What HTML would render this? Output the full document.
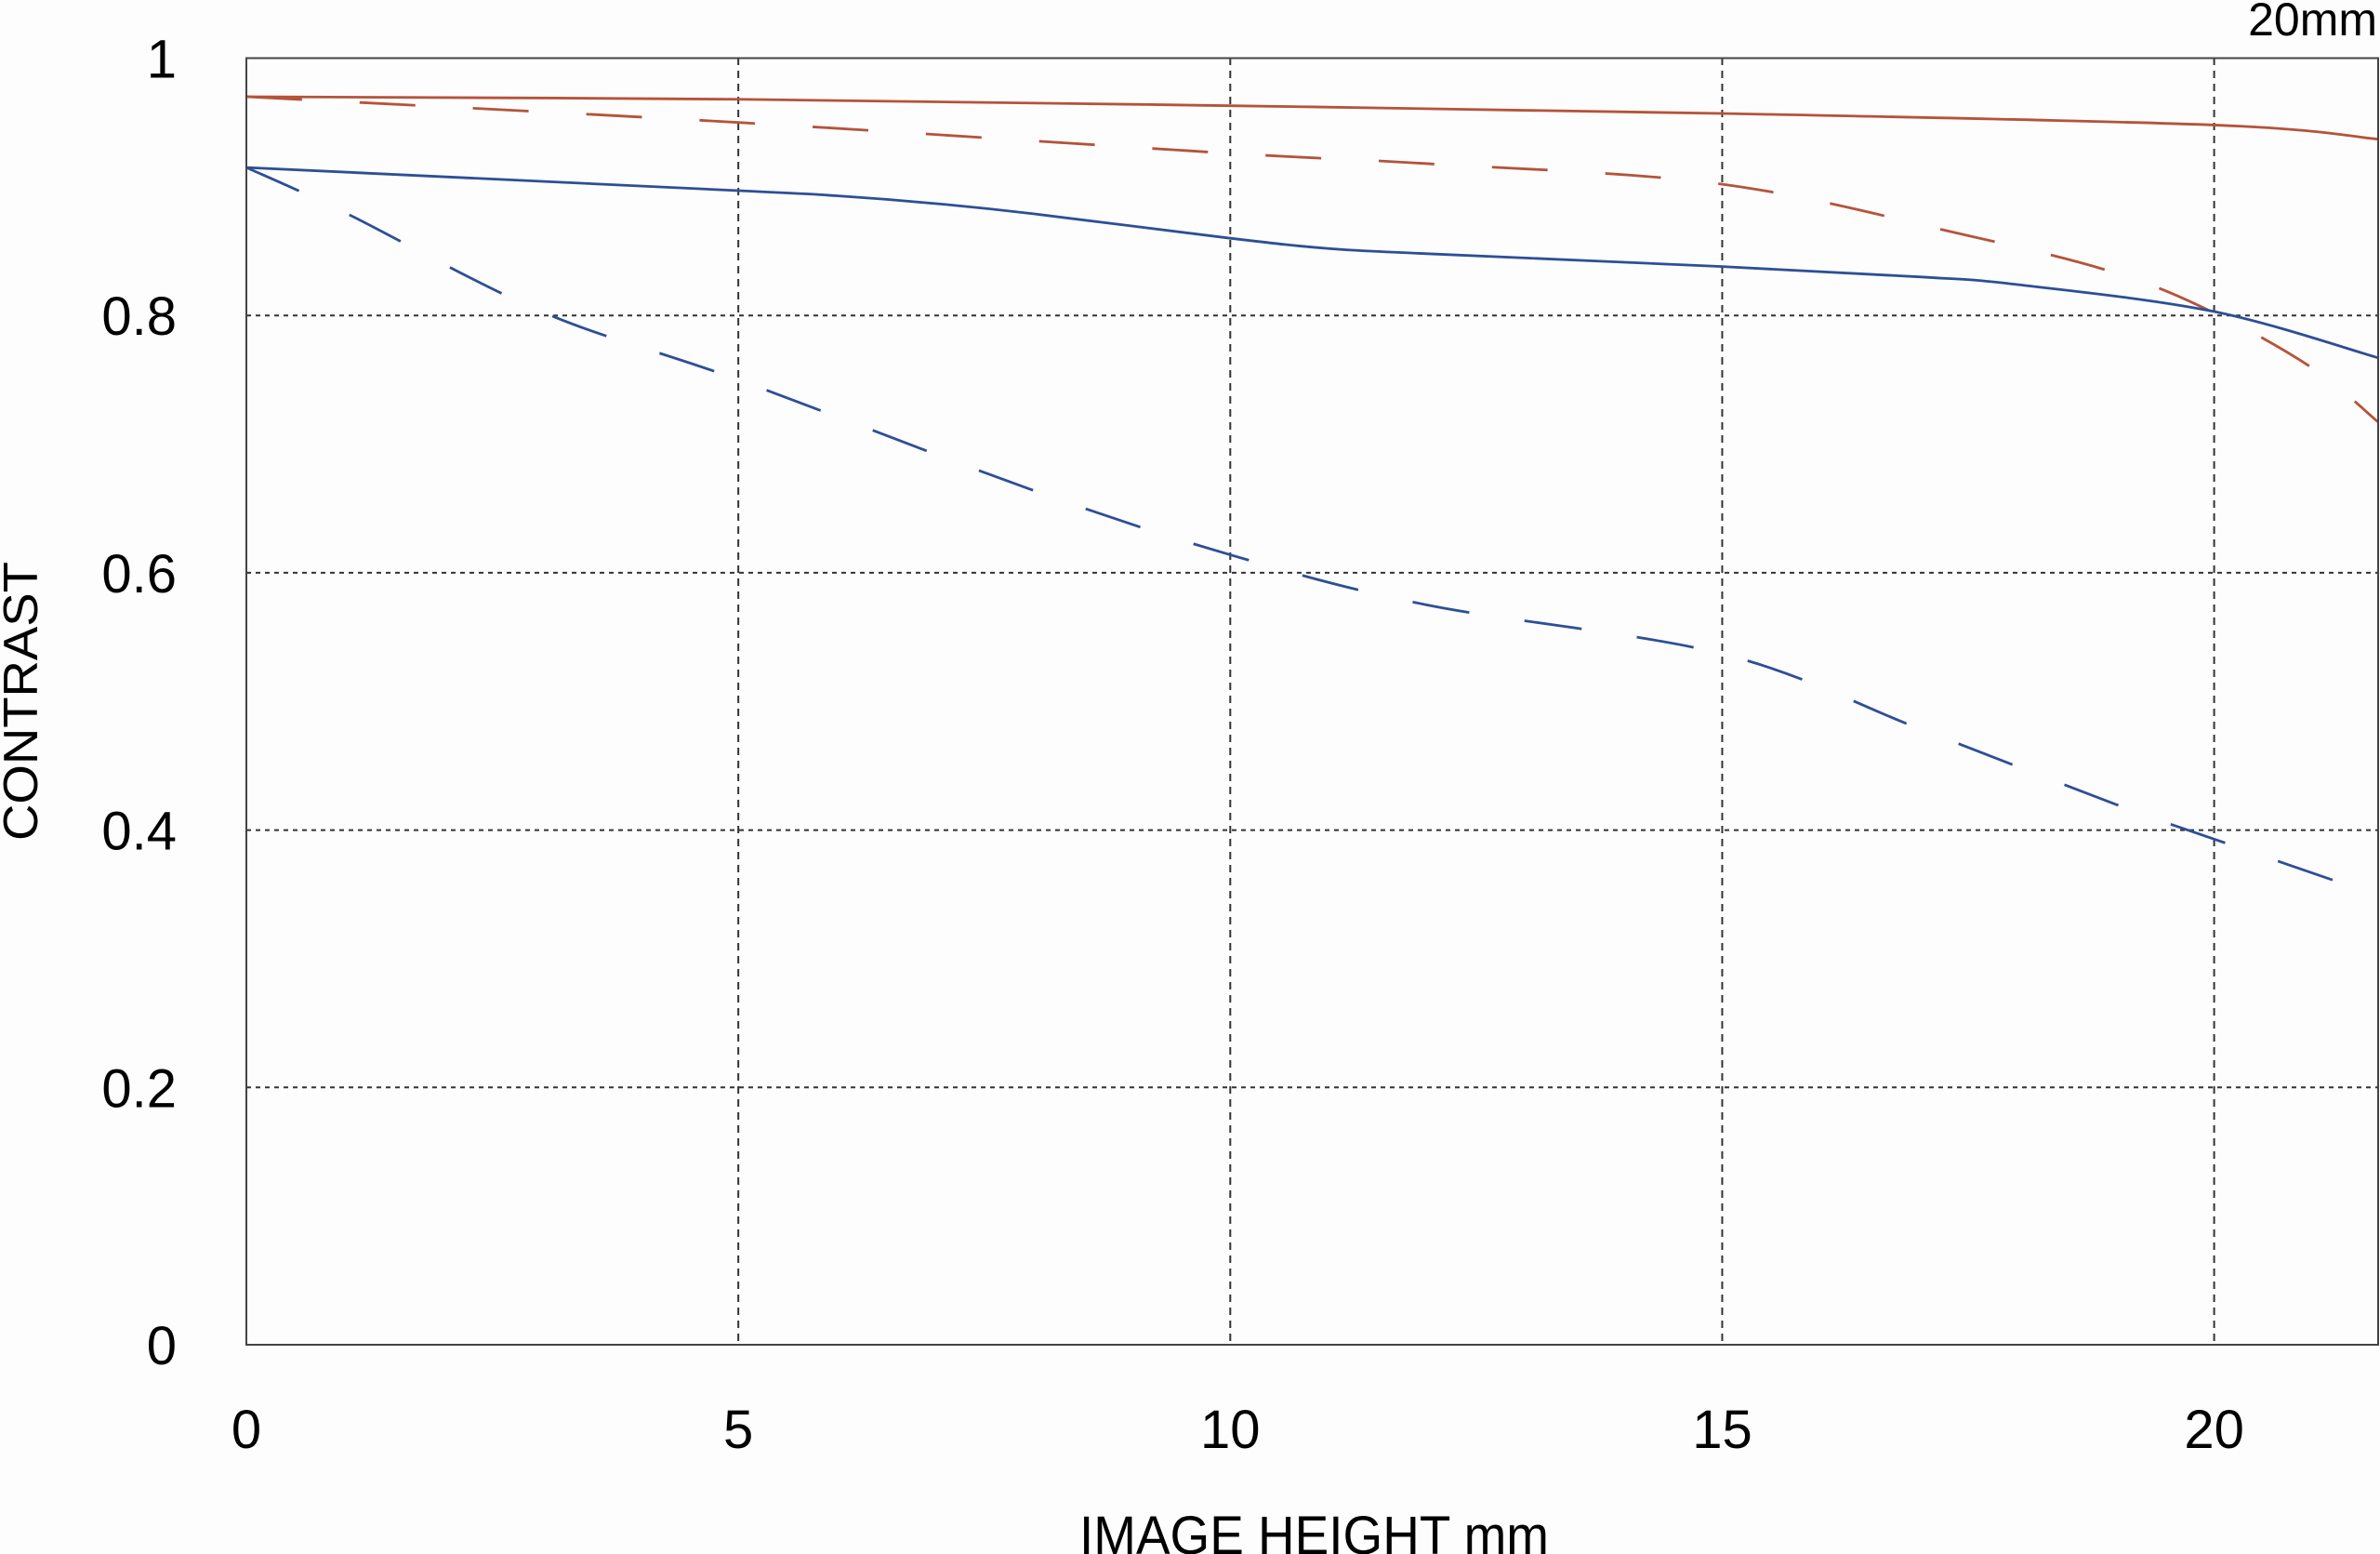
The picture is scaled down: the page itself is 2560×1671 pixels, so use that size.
<!DOCTYPE html>
<html><head><meta charset="utf-8"><style>
html,body{margin:0;padding:0;background:#fdfdfd;}
svg{display:block;font-family:"Liberation Sans",sans-serif;}
</style></head><body>
<svg id="chart" width="2560" height="1671" viewBox="0 0 2560 1671" xmlns="http://www.w3.org/2000/svg">
<rect width="2560" height="1671" fill="#fdfdfd"/>
<g id="grid"></g>
<g id="series"></g>
<g id="labels"></g>
<rect x="265" y="62.5" width="2293" height="1383.5" fill="none" stroke="#444" stroke-width="2"/>
<text x="2557" y="38" text-anchor="end" font-size="50" fill="#000">20mm</text>
<text transform="translate(40,754) rotate(-90)" text-anchor="middle" font-size="52" fill="#000" textLength="300" lengthAdjust="spacingAndGlyphs">CONTRAST</text>
<text x="1161" y="1671" font-size="58" fill="#000" textLength="505" lengthAdjust="spacingAndGlyphs">IMAGE HEIGHT  mm</text>
</svg>
<script>
const xTicks=[0,5,10,15,20];
const yTicks=[0,0.2,0.4,0.6,0.8,1];
const yTickLabels=["0","0.2","0.4","0.6","0.8","1"];
const redSolidX=[0,5,10,15,20,21.67];
const redSolidY=[0.970,0.968,0.963,0.957,0.948,0.937];
const redDashX=[0,5,10,12,15,17.5,19,20,21,21.67];
const redDashY=[0.970,0.950,0.926,0.918,0.902,0.862,0.833,0.802,0.759,0.717];
const blueSolidX=[0,5,6,7,8,10,11,12,15,17,18,20,21.67];
const blueSolidY=[0.915,0.897,0.893,0.887,0.879,0.860,0.852,0.848,0.838,0.830,0.824,0.803,0.767];
const blueDashX=[0,1,3,5,8,10,12,15,17,19,20,21.67];
const blueDashY=[0.915,0.880,0.803,0.750,0.664,0.614,0.575,0.537,0.479,0.420,0.393,0.349];

const X0=265,XPX=105.83,Y0=1446,YPX=1383.5;
const sx=v=>X0+v*XPX, sy=v=>Y0-v*YPX;
const NS="http://www.w3.org/2000/svg";
const grid=document.getElementById('grid'),ser=document.getElementById('series'),lab=document.getElementById('labels');
function mk(t,a,p){const e=document.createElementNS(NS,t);for(const k in a)e.setAttribute(k,a[k]);p.appendChild(e);return e;}
xTicks.forEach(v=>{
  if(v>0){const l=mk('line',{x1:sx(v),x2:sx(v),y1:62,y2:1446,stroke:'#333','stroke-width':2,'stroke-dasharray':'8 6'},grid);
  
  }
  const t=mk('text',{x:sx(v),y:1557,'text-anchor':'middle','font-size':58,fill:'#000'},lab);
  t.textContent=String(v);
  
  
});
yTicks.forEach((v,i)=>{
  if(v>0&&v<1){const l=mk('line',{x1:265,x2:2558,y1:sy(v),y2:sy(v),stroke:'#333','stroke-width':2,'stroke-dasharray':'5 5'},grid);
  
  }
  const t=mk('text',{x:190,y:sy(v)+21,'text-anchor':'end','font-size':58,fill:'#000'},lab);
  t.textContent=yTickLabels[i];
  
  
});
function curve(xs,ys){
  const p=xs.map((x,i)=>[sx(x),sy(ys[i])]);
  let d='M'+p[0][0]+','+p[0][1];
  for(let i=0;i<p.length-1;i++){
    const p0=p[i-1]||p[i],p1=p[i],p2=p[i+1],p3=p[i+2]||p2;
    const c1x=p1[0]+(p2[0]-p0[0])/6,c1y=p1[1]+(p2[1]-p0[1])/6;
    const c2x=p2[0]-(p3[0]-p1[0])/6,c2y=p2[1]-(p3[1]-p1[1])/6;
    d+=` C${c1x},${c1y} ${c2x},${c2y} ${p2[0]},${p2[1]}`;
  }
  return d;
}
const defs=[
  [redSolidX,redSolidY,'#b5533a',null,'sagittal-30lpmm-line'],
  [redDashX,redDashY,'#b5533a','60 62','meridional-30lpmm-line'],
  [blueSolidX,blueSolidY,'#2d4f96',null,'sagittal-10lpmm-line'],
  [blueDashX,blueDashY,'#2d4f96','62 60','meridional-10lpmm-line']
];
defs.forEach(s=>{
  const a={d:curve(s[0],s[1]),fill:'none',stroke:s[2],'stroke-width':2.8};
  if(s[3])a['stroke-dasharray']=s[3];
  const e=mk('path',a,ser);
  
  
});
</script>
</body></html>
